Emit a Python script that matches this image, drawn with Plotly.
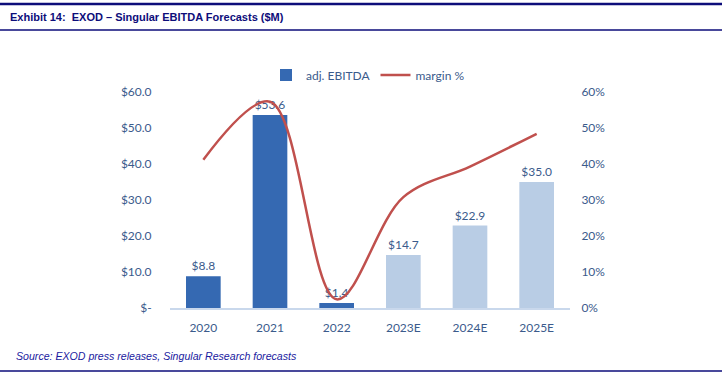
import plotly.graph_objects as go

categories = ["2020", "2021", "2022", "2023E", "2024E", "2025E"]
ebitda = [8.8, 53.6, 1.4, 14.7, 22.9, 35.0]
margin_pct = [41.2, 57.3, 2.4, 30.8, 39.3, 48.4]
bar_colors = ["#3569B2", "#3569B2", "#3569B2", "#B9CDE5", "#B9CDE5", "#B9CDE5"]
left_ticks = [0, 10, 20, 30, 40, 50, 60]
left_ticktext = ["$-", "$10.0", "$20.0", "$30.0", "$40.0", "$50.0", "$60.0"]
right_ticks = [0, 10, 20, 30, 40, 50, 60]
right_ticktext = ["0%", "10%", "20%", "30%", "40%", "50%", "60%"]

W, H = 722, 375
L, R, T, B = 170, 152, 92, 67
PW, PH = W - L - R, H - T - B
navy = "#0D0D7A"
txt = "#3B5B8C"
font_fam = "Lato, Open Sans, sans-serif"

fig = go.Figure()
fig.add_trace(go.Bar(
    x=categories, y=ebitda, name="adj. EBITDA",
    marker=dict(color=bar_colors, line=dict(width=0)),
    width=0.52,
    text=["$%.1f" % v for v in ebitda], textposition="outside",
    textfont=dict(family=font_fam, size=12, color=txt),
    cliponaxis=False,
))
fig.add_trace(go.Scatter(
    x=categories, y=margin_pct, name="margin %", yaxis="y2",
    mode="lines", line=dict(color="#C0504D", width=2.5, shape="spline", smoothing=1.0),
    cliponaxis=False,
))

fig.update_layout(
    width=W, height=H,
    margin=dict(l=L, r=R, t=T, b=B),
    paper_bgcolor="white", plot_bgcolor="white",
    showlegend=True,
    legend=dict(orientation="h", x=(266 - L) / PW, y=1 + (T - 75) / PH, xanchor="left", yanchor="middle",
                font=dict(family=font_fam, size=12, color=txt), itemwidth=30,
                bgcolor="rgba(0,0,0,0)", traceorder="normal"),
    xaxis=dict(showgrid=False, showline=True, linecolor="#C9D8EC", linewidth=1.5,
               tickfont=dict(family=font_fam, size=12, color=txt), ticks="outside",
               ticklen=8, tickcolor="rgba(0,0,0,0)", zeroline=False),
    yaxis=dict(range=[0, 60], tickvals=left_ticks, ticktext=left_ticktext, showgrid=False,
               zeroline=False, showline=False, ticks="outside", ticklen=15,
               tickcolor="rgba(0,0,0,0)",
               tickfont=dict(family=font_fam, size=12, color=txt)),
    yaxis2=dict(range=[0, 60], overlaying="y", side="right", tickvals=right_ticks,
                ticktext=right_ticktext, showgrid=False, zeroline=False, showline=False,
                ticks="outside", ticklen=8, tickcolor="rgba(0,0,0,0)",
                tickfont=dict(family=font_fam, size=12, color=txt)),
    bargap=0.48,
    shapes=[
        dict(type="line", xref="paper", yref="paper", x0=-L / PW, x1=(W - L) / PW,
             y0=1 + (T - 4) / PH, y1=1 + (T - 4) / PH,
             line=dict(color=navy, width=2.5)),
        dict(type="line", xref="paper", yref="paper", x0=-L / PW, x1=(W - L) / PW,
             y0=1 + (T - 30) / PH, y1=1 + (T - 30) / PH,
             line=dict(color=navy, width=1.5)),
        dict(type="line", xref="paper", yref="paper", x0=-L / PW, x1=(W - L) / PW,
             y0=-(371 - (H - B)) / PH, y1=-(371 - (H - B)) / PH,
             line=dict(color=navy, width=1.5)),
    ],
    annotations=[
        dict(text="<b>Exhibit 14:  EXOD – Singular EBITDA Forecasts ($M)</b>", xref="paper", yref="paper",
             x=-(L - 8) / PW, y=1 + (T - 17) / PH, xanchor="left", yanchor="middle",
             showarrow=False, font=dict(family="Liberation Sans, Arial", size=11, color=navy)),
        dict(text="<i>Source: EXOD press releases, Singular Research forecasts</i>", xref="paper", yref="paper",
             x=-(L - 14) / PW, y=-(356 - (H - B)) / PH, xanchor="left", yanchor="middle",
             showarrow=False, font=dict(family="Liberation Sans, Arial", size=10.6, color="#1A1AA0")),
    ],
)

fig.write_html("out.html", config={"displayModeBar": False},
               post_script="document.body.style.margin='0';document.body.style.overflow='hidden';")
